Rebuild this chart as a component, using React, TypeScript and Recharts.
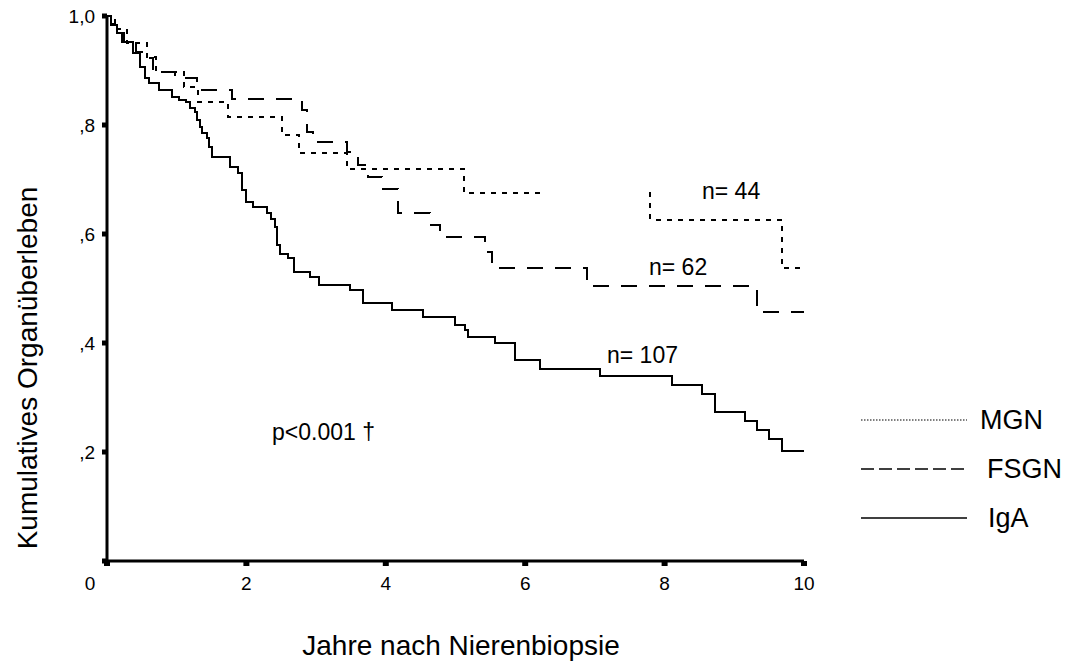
import { LineChart, Line, XAxis, YAxis } from "recharts";

const FONT = "'Liberation Sans', Arial, sans-serif";

const xTicks = [0, 2, 4, 6, 8, 10];
const yTicks = [0, 0.2, 0.4, 0.6, 0.8, 1];

// IgA (n = 107)
const igaTime = [0, 0.06, 0.14, 0.22, 0.37, 0.47, 0.54, 0.6, 0.75, 0.93, 1.04, 1.14, 1.19, 1.26, 1.29, 1.33, 1.36, 1.43, 1.47, 1.5, 1.76, 1.88, 1.93, 2.0, 2.09, 2.29, 2.36, 2.41, 2.44, 2.48, 2.59, 2.68, 2.91, 3.04, 3.48, 3.67, 4.09, 4.53, 4.99, 5.14, 5.18, 5.57, 5.86, 6.21, 7.08, 8.11, 8.54, 8.73, 9.16, 9.32, 9.5, 9.69, 10.0];
const igaSurv = [1.0, 0.983, 0.969, 0.952, 0.932, 0.906, 0.886, 0.877, 0.864, 0.851, 0.846, 0.842, 0.831, 0.824, 0.809, 0.796, 0.785, 0.776, 0.76, 0.741, 0.723, 0.712, 0.681, 0.659, 0.65, 0.639, 0.627, 0.613, 0.58, 0.563, 0.556, 0.53, 0.521, 0.506, 0.497, 0.473, 0.461, 0.448, 0.433, 0.424, 0.411, 0.4, 0.369, 0.352, 0.339, 0.323, 0.306, 0.273, 0.257, 0.24, 0.224, 0.202, 0.202];

// FSGN (n = 62)
const fsgnTime = [0, 0.06, 0.14, 0.25, 0.42, 0.62, 0.66, 0.97, 1.29, 1.8, 2.8, 2.87, 2.95, 3.44, 3.6, 3.74, 3.94, 4.17, 4.63, 4.78, 5.42, 5.52, 6.89, 9.33, 10.0];
const fsgnSurv = [1.0, 0.985, 0.969, 0.95, 0.934, 0.923, 0.897, 0.886, 0.864, 0.848, 0.828, 0.787, 0.769, 0.75, 0.727, 0.705, 0.683, 0.639, 0.617, 0.594, 0.567, 0.538, 0.505, 0.457, 0.457];

// MGN (n = 44), the curve is not drawn between ~6.2 and ~7.8 years
const mgnTime = [0, 0.11, 0.28, 0.57, 0.71, 1.1, 1.3, 1.73, 2.51, 2.75, 3.45, 5.12, 6.21, 6.22, 7.78, 7.79, 9.68, 9.95];
const mgnSurv = [1.0, 0.976, 0.95, 0.925, 0.898, 0.87, 0.842, 0.815, 0.782, 0.749, 0.719, 0.675, 0.675, null, 0.675, 0.626, 0.538, 0.538];

const toSteps = (times: number[], surv: (number | null)[]) =>
    times.map((t, i) => ({ t, s: surv[i] }));

const igaData = toSteps(igaTime, igaSurv);
const fsgnData = toSteps(fsgnTime, fsgnSurv);
const mgnData = toSteps(mgnTime, mgnSurv);

const yLabel = (v: number) => {
    if (v === 0) return "";
    if (v === 1) return "1,0";
    return "," + Math.round(v * 10);
};

function XTick(props: any) {
    const { x, y, payload } = props;
    // the "0" label sits left of the origin in the original
    const dx = payload.value === 0 ? -17 : 0;
    return (
        <text x={x + dx} y={y} dy="0.71em" textAnchor="middle" fontSize={19} fill="#000" fontFamily={FONT}>
            {payload.value}
        </text>
    );
}

export default function App() {
    return (
        <div style={{ position: "absolute", left: 0, top: 0, width: 1071, height: 662, background: "#fff", fontFamily: FONT }}>
            <LineChart width={1071} height={662} margin={{ top: 16, right: 267, left: 0, bottom: 71 }}>
                <XAxis
                    type="number"
                    dataKey="t"
                    domain={[0, 10]}
                    ticks={xTicks}
                    height={30}
                    axisLine={{ stroke: "#000", strokeWidth: 3 }}
                    tickLine={{ stroke: "#000", strokeWidth: 6 }}
                    tickSize={5}
                    tickMargin={11}
                    tick={<XTick />}
                />
                <YAxis
                    type="number"
                    domain={[0, 1]}
                    ticks={yTicks}
                    width={107}
                    axisLine={{ stroke: "#000", strokeWidth: 3 }}
                    tickLine={{ stroke: "#000", strokeWidth: 5 }}
                    tickSize={5}
                    tickMargin={7}
                    tickFormatter={yLabel}
                    tick={{ fontSize: 19, fill: "#000", fontFamily: FONT }}
                />
                <Line data={mgnData} dataKey="s" type="stepAfter" stroke="#000" strokeWidth={2} strokeDasharray="5 6" shapeRendering="crispEdges" dot={false} connectNulls={false} isAnimationActive={false} />
                <Line data={fsgnData} dataKey="s" type="stepAfter" stroke="#000" strokeWidth={2} strokeDasharray="16 12" shapeRendering="crispEdges" dot={false} isAnimationActive={false} />
                <Line data={igaData} dataKey="s" type="stepAfter" stroke="#000" strokeWidth={2} shapeRendering="crispEdges" dot={false} isAnimationActive={false} />
            </LineChart>

            {/* titles, annotations and legend */}
            <svg width={1071} height={662} style={{ position: "absolute", left: 0, top: 0, pointerEvents: "none" }} fontFamily={FONT} fill="#000">
                <text transform="translate(37,368) rotate(-90)" textAnchor="middle" fontSize={28}>Kumulatives Organüberleben</text>
                <text x={461} y={655} textAnchor="middle" fontSize={28}>Jahre nach Nierenbiopsie</text>

                <text x={702} y={199} fontSize={23}>n= 44</text>
                <text x={649} y={275} fontSize={23}>n= 62</text>
                <text x={607} y={363} fontSize={23}>n= 107</text>
                <text x={272} y={440} fontSize={23}>p&lt;0.001 †</text>

                <line x1={861} y1={420} x2={967} y2={420} stroke="#000" strokeWidth={1.2} strokeDasharray="1.5 1.5" />
                <text x={980} y={429} fontSize={27}>MGN</text>
                <line x1={861} y1={469} x2={967} y2={469} stroke="#000" strokeWidth={1.5} strokeDasharray="13 5" />
                <text x={987} y={478} fontSize={27}>FSGN</text>
                <line x1={861} y1={518} x2={967} y2={518} stroke="#000" strokeWidth={1.5} />
                <text x={988} y={527} fontSize={27}>IgA</text>
            </svg>
        </div>
    );
}
